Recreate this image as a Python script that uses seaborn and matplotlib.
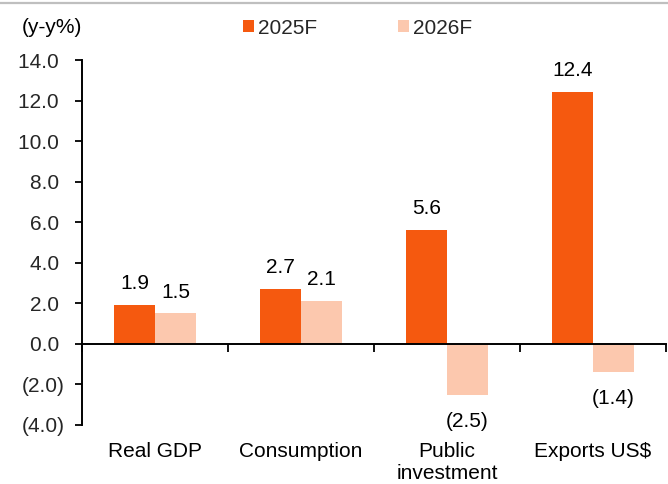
import numpy as np
import pandas as pd
import seaborn as sns
import matplotlib
matplotlib.use("Agg")
import matplotlib.pyplot as plt
import matplotlib.transforms as mtransforms
from matplotlib.lines import Line2D
from matplotlib.ticker import FixedLocator, FuncFormatter

# Forecast data (y-y %)
categories = ["Real GDP", "Consumption", "Public\ninvestment", "Exports US$"]
series_names = ["2025F", "2026F"]
values_2025 = [1.9, 2.7, 5.6, 12.4]
values_2026 = [1.5, 2.1, -2.5, -1.4]
y_ticks = [-4.0, -2.0, 0.0, 2.0, 4.0, 6.0, 8.0, 10.0, 12.0, 14.0]

colors = ["#F5590F", "#FCC8AE"]
FONT = 15

df = pd.DataFrame({
    "category": categories * 2,
    "series": [series_names[0]] * len(categories) + [series_names[1]] * len(categories),
    "value": values_2025 + values_2026,
})

sns.set_theme(style="white")
plt.rcParams["font.family"] = ["Liberation Sans", "DejaVu Sans"]

fig = plt.figure(figsize=(6.68, 4.84), dpi=100)
ax = fig.add_axes([82 / 668, 1 - 425 / 484, (666 - 82) / 668, (425 - 60) / 484])

sns.barplot(data=df, x="category", y="value", hue="series", order=categories,
            hue_order=series_names, palette=colors, width=0.56, gap=0,
            linewidth=0, saturation=1, ax=ax, legend=True)

handles, labels = ax.get_legend_handles_labels()
ax.get_legend().remove()

def fmt(v):
    return f"({abs(v):.1f})" if v < 0 else f"{v:.1f}"

# value labels above positive bars, below negative bars
for cont in ax.containers:
    for bar in cont:
        h = bar.get_height()
        if bar.get_y() < 0:
            h = bar.get_y()
        xc = bar.get_x() + bar.get_width() / 2
        off = 11.5 if h >= 0 else -23
        ax.annotate(fmt(h), xy=(xc, h), xytext=(0, off), textcoords="offset points",
                    ha="center", va="baseline", fontsize=FONT, color="black")

ax.set_ylim(-4, 14)
ax.set_xlim(-0.5, len(categories) - 0.5)
ax.yaxis.set_major_locator(FixedLocator(y_ticks))
ax.yaxis.set_major_formatter(FuncFormatter(lambda v, p: fmt(v) if v < 0 else fmt(v) + " "))
ax.tick_params(axis="y", direction="out", length=5, width=1.3, color="black",
               labelsize=FONT, pad=7.5, left=True)
ax.set_ylabel("")
ax.set_xlabel("")

# category boundary ticks on the zero line
ax.xaxis.set_major_locator(FixedLocator(np.arange(len(categories) + 1) - 0.5))
ax.set_xticklabels([])
ax.tick_params(axis="x", direction="out", length=6, width=1.3, color="black", bottom=True)
ax.spines["bottom"].set_position(("data", 0))
for s in ["top", "right"]:
    ax.spines[s].set_visible(False)
for s in ["left", "bottom"]:
    ax.spines[s].set_color("black")
    ax.spines[s].set_linewidth(1.4)

# category names under the plot
trans = mtransforms.blended_transform_factory(ax.transData, fig.transFigure)
for i, c in enumerate(categories):
    ax.text(i, 1 - 442 / 484, c, transform=trans, ha="center", va="top",
            fontsize=FONT, color="black", linespacing=1.2)

# unit label
fig.text(22 / 668, 1 - 33 / 484, "(y-y%)", ha="left", va="baseline",
         fontsize=FONT, color="black")

# legend
leg = fig.legend(handles, labels, loc="center", bbox_to_anchor=(357.5 / 668, 1 - 28 / 484),
                 ncol=2, frameon=False, fontsize=FONT, handlelength=0.5, handleheight=0.5,
                 handletextpad=0.2, columnspacing=3.9, borderpad=0, borderaxespad=0)

# thin rule across the top
fig.add_artist(Line2D([0, 1], [1 - 3 / 484, 1 - 3 / 484], transform=fig.transFigure,
                      color="#BFBFBF", linewidth=1.6))

fig.savefig("out.png", dpi=100)
